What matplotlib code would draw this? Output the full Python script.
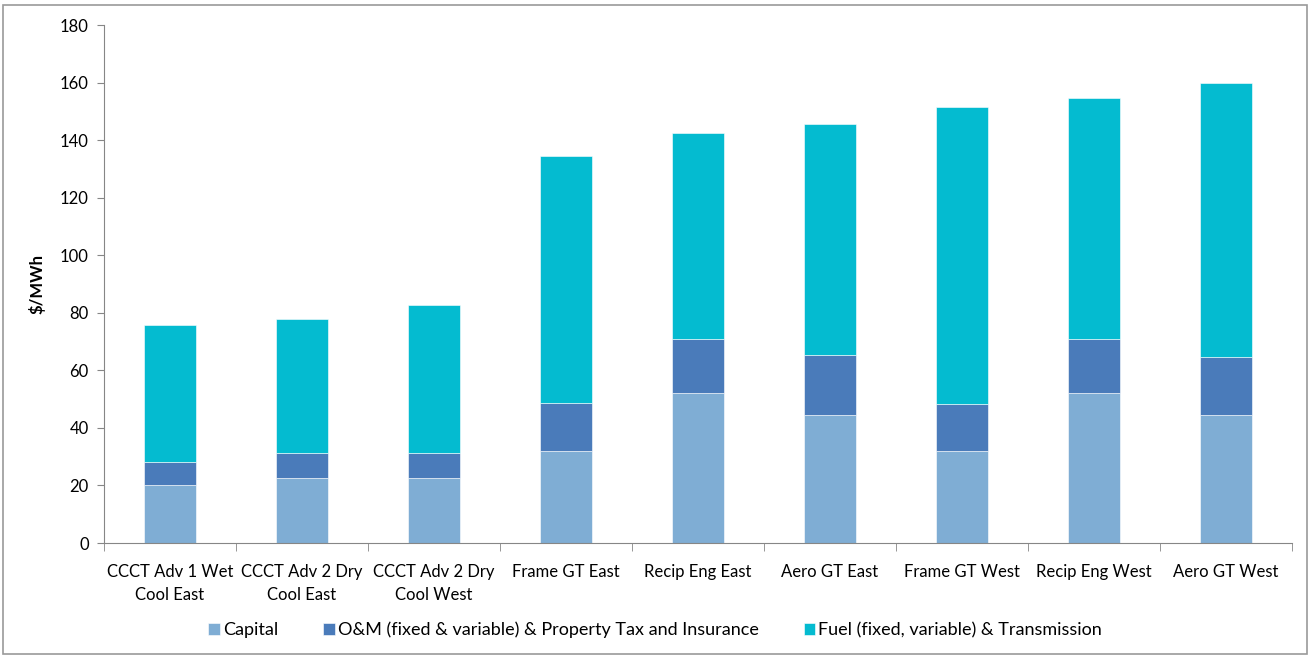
import matplotlib
matplotlib.use("Agg")
import matplotlib.pyplot as plt
import numpy as np
from matplotlib.patches import Rectangle

plt.rcParams['font.family'] = ['Lato', 'DejaVu Sans']

categories = ['CCCT Adv 1 Wet\nCool East', 'CCCT Adv 2 Dry\nCool East', 'CCCT Adv 2 Dry\nCool West',
              'Frame GT East', 'Recip Eng East', 'Aero GT East',
              'Frame GT West', 'Recip Eng West', 'Aero GT West']

# stack tops read as cumulative $/MWh
capital = [20.2, 22.7, 22.7, 32.0, 52.2, 44.5, 32.0, 52.2, 44.5]
om_top = [28.1, 31.2, 31.2, 48.6, 70.8, 65.2, 48.3, 70.8, 64.8]
total = [75.8, 78.0, 82.6, 134.5, 142.6, 145.6, 151.6, 154.5, 160.0]

om = [b - a for a, b in zip(capital, om_top)]
fuel = [c - b for b, c in zip(om_top, total)]

labels = ['Capital', 'O&M (fixed & variable) & Property Tax and Insurance',
          'Fuel (fixed, variable) & Transmission']
colors = ['#7FADD4', '#4A7BBA', '#04BBD0']

fig = plt.figure(figsize=(13.1, 6.56), dpi=100)
ax = fig.add_axes([104 / 1310, 113 / 656, 1188 / 1310, 518 / 656])

x = np.arange(len(categories))
w = 0.4
ax.bar(x, capital, w, color=colors[0], label=labels[0], edgecolor='white', linewidth=0.4)
ax.bar(x, om, w, bottom=capital, color=colors[1], label=labels[1], edgecolor='white', linewidth=0.4)
ax.bar(x, fuel, w, bottom=om_top, color=colors[2], label=labels[2], edgecolor='white', linewidth=0.4)

ax.set_xlim(-0.5, len(categories) - 0.5)
ax.set_ylim(0, 180)
ax.set_yticks(range(0, 181, 20))
ax.set_xticks(x)
ax.set_xticklabels(categories, fontsize=12, linespacing=1.55)
ax.set_xticks(np.arange(-0.5, len(categories), 1), minor=True)
ax.tick_params(axis='x', which='major', length=0, pad=15)
ax.tick_params(axis='x', which='minor', length=6, color='#868686', direction='out')
ax.tick_params(axis='y', labelsize=12, length=5, color='#868686', pad=6)

for s in ['top', 'right']:
    ax.spines[s].set_visible(False)
for s in ['left', 'bottom']:
    ax.spines[s].set_color('#868686')

ax.set_ylabel('$/MWh', fontsize=12, fontweight='bold', labelpad=10)

leg = fig.legend(loc='center', bbox_to_anchor=(0.5, 26 / 656), ncol=3, frameon=False,
                 fontsize=13, handlelength=0.65, handleheight=0.65, handletextpad=0.15,
                 columnspacing=2.5)

fig.patches.append(Rectangle((3 / 1310, 2 / 656), 1304 / 1310, 649 / 656, transform=fig.transFigure,
                             fill=False, edgecolor='#9A9A9A', linewidth=1.2))

fig.savefig('out.png', dpi=100)
